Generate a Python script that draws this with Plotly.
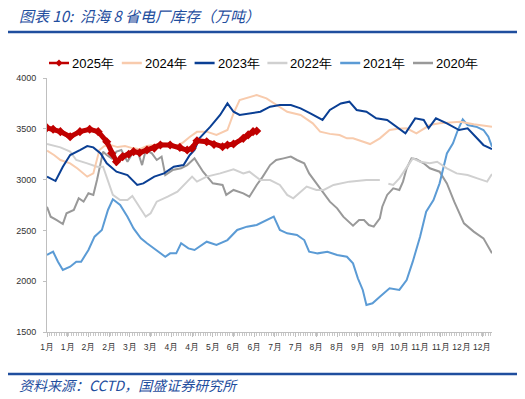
import plotly.graph_objects as go

# ---------------- data (day of year, value in 万吨) ----------------
tick_days = list(range(0, 358, 17))
tick_text = ["1月", "1月", "2月", "2月", "3月", "3月", "4月", "4月", "5月", "6月", "6月",
             "7月", "7月", "8月", "8月", "9月", "9月", "10月", "11月", "11月", "12月", "12月"]

d2025 = [0, 5, 11, 19, 27, 35, 42, 49, 53, 57, 62, 67, 71, 76, 82, 88, 93, 101, 109, 115,
         119, 123, 131, 137, 144, 148, 153, 161, 165, 169, 172]
v2025 = [3510, 3495, 3472, 3422, 3472, 3495, 3472, 3373, 3259, 3176, 3226, 3250, 3275, 3265,
         3291, 3310, 3340, 3340, 3317, 3291, 3308, 3383, 3373, 3345, 3324, 3340, 3350, 3406,
         3440, 3472, 3478]

d2024 = [0, 6, 11, 19, 25, 30, 33, 38, 43, 47, 52, 58, 64, 70, 76, 82, 88, 93, 99, 105, 111,
         117, 123, 131, 139, 148, 153, 158, 165, 172, 180, 189, 197, 208, 218, 224, 232, 240,
         246, 251, 258, 265, 273, 281, 288, 295, 303, 309, 314, 322, 330, 339, 350, 358, 365]
v2024 = [3285, 3240, 3193, 3160, 3110, 3061, 3029, 3061, 3291, 3330, 3340, 3320, 3330, 3310,
         3300, 3330, 3340, 3360, 3350, 3330, 3360, 3420, 3470, 3472, 3440, 3488, 3652, 3783,
         3810, 3833, 3800, 3734, 3668, 3636, 3554, 3472, 3450, 3439, 3406, 3406, 3380, 3350,
         3406, 3488, 3500, 3505, 3455, 3500, 3537, 3554, 3560, 3570, 3545, 3530, 3521]

d2023 = [0, 7, 13, 19, 27, 33, 38, 44, 49, 57, 66, 74, 79, 88, 96, 104, 112, 117, 121, 125,
         134, 142, 148, 153, 158, 166, 175, 183, 191, 200, 208, 216, 226, 232, 241, 248, 254,
         262, 270, 279, 287, 294, 302, 309, 313, 319, 328, 338, 345, 353, 358, 365]
v2023 = [3029, 2986, 3127, 3242, 3291, 3330, 3317, 3258, 3160, 3078, 3045, 2947, 2963, 3029,
         3061, 3127, 3143, 3240, 3291, 3406, 3521, 3636, 3750, 3668, 3636, 3652, 3668, 3718,
         3734, 3734, 3701, 3652, 3587, 3685, 3750, 3767, 3685, 3668, 3603, 3587, 3521, 3455,
         3603, 3587, 3505, 3603, 3554, 3488, 3505, 3406, 3340, 3301]

d2022 = [0, 11, 19, 24, 33, 41, 46, 50, 54, 60, 66, 70, 74, 81, 85, 90, 99, 107, 115, 119,
         123, 131, 142, 153, 161, 166, 175, 183, 191, 197, 202, 208, 213, 221, 227, 235, 248,
         262, 273, 277, 280, 284, 289, 295, 300, 306, 314, 320, 328, 336, 345, 353, 361, 365]
v2022 = [3350, 3317, 3275, 3193, 3160, 3127, 3127, 2996, 2849, 2799, 2799, 2839, 2767, 2635,
         2668, 2783, 2832, 2882, 2980, 3029, 2980, 3029, 3061, 3101, 3061, 3078, 2996, 2996,
         2947, 2849, 2816, 2882, 2931, 2898, 2898, 2947, 2980, 2996, 2996, None, 2960, 2947,
         3012, 3127, 3209, 3176, 3160, 3176, 3111, 3061, 3045, 3012, 2980, 3055]

d2021 = [0, 5, 9, 13, 19, 24, 28, 34, 39, 45, 50, 54, 60, 66, 71, 77, 82, 90, 97, 101, 106,
         110, 116, 121, 126, 131, 139, 148, 156, 164, 172, 181, 186, 191, 197, 205, 211, 215,
         222, 230, 238, 246, 251, 255, 259, 262, 267, 273, 281, 289, 295, 300, 306, 311, 317,
         322, 328, 333, 337, 341, 345, 352, 358, 362, 365]
v2021 = [2258, 2290, 2192, 2110, 2143, 2192, 2192, 2307, 2438, 2504, 2701, 2806, 2750, 2635,
         2520, 2422, 2373, 2307, 2241, 2274, 2274, 2373, 2323, 2307, 2350, 2389, 2356, 2405,
         2504, 2537, 2553, 2602, 2635, 2504, 2471, 2455, 2405, 2290, 2274, 2290, 2258, 2241,
         2176, 2028, 1914, 1766, 1783, 1848, 1930, 1914, 2012, 2192, 2438, 2684, 2799, 2963,
         3258, 3357, 3488, 3593, 3537, 3521, 3488, 3422, 3324]

d2020 = [0, 3, 8, 13, 16, 22, 26, 30, 34, 38, 41, 44, 46, 49, 53, 57, 61, 66, 70, 74, 78, 81,
         86, 90, 94, 97, 103, 110, 115, 121, 124, 128, 136, 144, 147, 153, 161, 166, 172, 177,
         183, 188, 194, 200, 205, 211, 215, 222, 227, 232, 238, 243, 251, 256, 260, 264, 268,
         273, 275, 279, 284, 289, 292, 295, 299, 303, 309, 314, 322, 328, 334, 342, 350, 358, 365]
v2020 = [2733, 2635, 2602, 2563, 2668, 2701, 2816, 2783, 2865, 2849, 2996, 3160, 3275, 3242,
         3209, 3275, 3291, 3176, 3258, 3291, 3143, 3291, 3258, 3193, 3226, 3045, 3094, 3111,
         3143, 3209, 3150, 3078, 2963, 2947, 2849, 2898, 2865, 2832, 2947, 3029, 3143, 3193,
         3209, 3226, 3193, 3160, 3061, 2947, 2865, 2783, 2717, 2635, 2546, 2602, 2602, 2553,
         2537, 2619, 2733, 2849, 2914, 2898, 2980, 3111, 3209, 3200, 3160, 3111, 3078, 2963,
         2783, 2570, 2488, 2422, 2274]

series_names = ["2025年", "2024年", "2023年", "2022年", "2021年", "2020年"]
series_colors = ["#C00000", "#F8CBAD", "#0A3F94", "#D0D0D0", "#5B9BD5", "#999999"]

# ---------------- figure ----------------
# page body has an 8px default margin, so the figure is placed at (8, 8)
OX, OY = 8, 8
W, H = 525 - OX, 399 - OY
L, T = 47 - OX, 78 - OY
R, B = W - (492 - OX), H - (332 - OY)
pw, ph = W - L - R, H - T - B


def px(x):
    return (x - OX - L) / pw


def py(y):
    return (H - B - (y - OY)) / ph


fig = go.Figure()
order = [(d2020, v2020, 5), (d2021, v2021, 4), (d2022, v2022, 3),
         (d2024, v2024, 1), (d2023, v2023, 2)]
for d, v, i in order:
    fig.add_trace(go.Scatter(x=d, y=v, mode="lines", name=series_names[i],
                             line=dict(color=series_colors[i], width=2),
                             connectgaps=False, showlegend=False))
fig.add_trace(go.Scatter(x=d2025, y=v2025, mode="lines+markers", name=series_names[0],
                         line=dict(color=series_colors[0], width=5),
                         marker=dict(symbol="diamond", size=7, color=series_colors[0]),
                         showlegend=False))

shapes = []
annotations = []
blue = "#1F4E9E"
# top and bottom rules
shapes.append(dict(type="line", xref="paper", yref="paper", x0=px(8), x1=px(517),
                   y0=py(32), y1=py(32), line=dict(color=blue, width=2.5)))
shapes.append(dict(type="line", xref="paper", yref="paper", x0=px(8), x1=px(517),
                   y0=py(374), y1=py(374), line=dict(color=blue, width=2.5)))
annotations.append(dict(xref="paper", yref="paper", x=px(17), y=py(15.5), xanchor="left",
                        yanchor="middle", showarrow=False,
                        text="<i>图表 10:  沿海 8 省电厂库存（万吨）</i>",
                        font=dict(family="Noto Sans CJK SC", size=15, color=blue)))
annotations.append(dict(xref="paper", yref="paper", x=px(17), y=py(385), xanchor="left",
                        yanchor="middle", showarrow=False,
                        text="<i>资料来源：CCTD，国盛证券研究所</i>",
                        font=dict(family="Noto Sans CJK SC", size=14, color=blue)))

# custom legend
ly = py(63)
for k in range(6):
    x0 = 49 + 72.8 * k
    shapes.append(dict(type="line", xref="paper", yref="paper", x0=px(x0), x1=px(x0 + 20),
                       y0=ly, y1=ly, line=dict(color=series_colors[k], width=2.5)))
    annotations.append(dict(xref="paper", yref="paper", x=px(x0 + 21), y=ly, xanchor="left",
                            yanchor="middle", showarrow=False, text=series_names[k],
                            font=dict(family="Liberation Sans", size=13, color="#000000")))
shapes.append(dict(type="path", xref="paper", yref="paper", xsizemode="pixel",
                   ysizemode="pixel", xanchor=px(59), yanchor=ly,
                   path="M -3.5 0 L 0 3.5 L 3.5 0 L 0 -3.5 Z",
                   fillcolor=series_colors[0], line=dict(color=series_colors[0], width=0)))

fig.update_layout(
    width=W, height=H,
    margin=dict(l=L, r=R, t=T, b=B, pad=0, autoexpand=False),
    paper_bgcolor="white", plot_bgcolor="white",
    showlegend=False,
    shapes=shapes, annotations=annotations,
    font=dict(family="Liberation Sans", color="#333333"),
)
fig.update_xaxes(range=[0, 365], tickmode="array", tickvals=tick_days, ticktext=tick_text,
                 tickangle=0, automargin=False, ticklabelstandoff=3,
                 showgrid=False, zeroline=False, showline=True, linecolor="#BFBFBF",
                 linewidth=1, ticks="outside", ticklen=4, tickcolor="#BFBFBF",
                 tickfont=dict(size=8.5, color="#333333"),
                 minor=dict(ticks="outside", dtick=2, tick0=0, ticklen=3, tickcolor="#C8C8C8",
                            showgrid=False))
fig.update_yaxes(range=[1500, 4000], dtick=500, tick0=1500, showgrid=False, zeroline=False,
                 automargin=False, ticklabelstandoff=5,
                 showline=True, linecolor="#BFBFBF", linewidth=1, ticks="outside",
                 ticklen=3, tickcolor="#BFBFBF", tickfont=dict(size=9, color="#333333"))

fig.write_html("out.html")
